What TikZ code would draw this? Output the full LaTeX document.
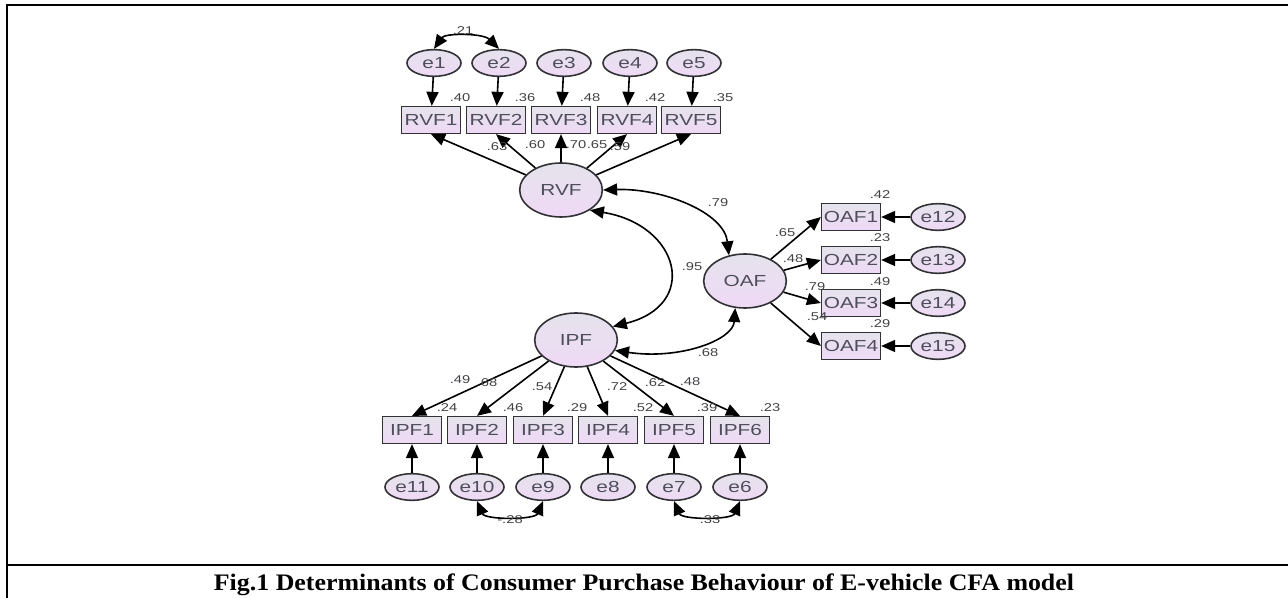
\documentclass[tikz,border=0pt]{standalone}
\usepackage{fontspec}
\setmainfont{Liberation Serif}
\setsansfont{Liberation Sans}
\usepackage{graphicx}
\usetikzlibrary{shapes.geometric, arrows.meta, positioning, calc}

\definecolor{nodetop}{RGB}{229,227,236}
\definecolor{nodebot}{RGB}{239,217,246}
\definecolor{nodeline}{RGB}{50,50,54}
\definecolor{nodetext}{RGB}{78,78,92}
\definecolor{coeftext}{RGB}{66,66,70}
\newcommand{\wide}[1]{\scalebox{1.3}[1]{#1}}

\begin{document}
\begin{tikzpicture}[
    x=0.75pt, y=-0.75pt,
    font=\sffamily,
    >={Triangle[length=10.5pt,width=9pt]},
    latent/.style={ellipse, draw=nodeline, line width=1.2pt, top color=nodetop, bottom color=nodebot, minimum width=62pt, minimum height=40.5pt, inner sep=0pt, text=nodetext, font=\sffamily\fontsize{12}{14}\selectfont},
    obs/.style={rectangle, draw=nodeline, line width=1.2pt, top color=nodetop, bottom color=nodebot, minimum width=44pt, minimum height=20pt, inner sep=0pt, text=nodetext, font=\sffamily\fontsize{12}{14}\selectfont},
    err/.style={ellipse, draw=nodeline, line width=1.2pt, top color=nodetop, bottom color=nodebot, minimum width=40.5pt, minimum height=20pt, inner sep=0pt, text=nodetext, font=\sffamily\fontsize{12}{14}\selectfont},
    coef/.style={inner sep=0pt, text=coeftext, font=\sffamily\fontsize{8.5}{10}\selectfont},
    path/.style={->, line width=1.2pt},
    cov/.style={<->, line width=1.2pt},
]
    \useasboundingbox (0,0) rectangle (1288,598);

    % Frame and caption
    \draw[line width=1.5pt] (7,598) -- (7,5.5) -- (1288,5.5);
    \draw[line width=1.5pt] (7,564.5) -- (1288,564.5);
    \node[font=\rmfamily\bfseries, anchor=base, inner sep=0pt] (caption) at (644,590)
        {\resizebox{645pt}{12.5pt}{Fig.1 Determinants of Consumer Purchase Behaviour of E-vehicle CFA model}};

    % Latent factors
    \node[latent] (RVF) at (561,190) {\wide{RVF}};
    \node[latent] (OAF) at (745,281) {\wide{OAF}};
    \node[latent] (IPF) at (576,340) {\wide{IPF}};

    % RVF indicators
    \foreach \i/\x in {1/431,2/496,3/561,4/627,5/691}{
        \node[obs] (RVF\i) at (\x,120) {\wide{RVF\i}};
        \node[err] (e\i) at (\x+3,63) {\wide{e\i}};
        \draw[path] (e\i) -- (RVF\i);
        \draw[path] (RVF) -- (RVF\i.south);
    }

    % OAF indicators
    \foreach \i/\y/\e in {1/217/12,2/260/13,3/303/14,4/346/15}{
        \node[obs] (OAF\i) at (851,\y) {\wide{OAF\i}};
        \node[err] (e\e) at (938,\y) {\wide{e\e}};
        \draw[path] (e\e) -- (OAF\i);
        \draw[path] (OAF) -- (OAF\i.west);
    }

    % IPF indicators
    \foreach \i/\x/\e in {1/412/11,2/477/10,3/543/9,4/608/8,5/674/7,6/740/6}{
        \node[obs] (IPF\i) at (\x,430) {\wide{IPF\i}};
        \node[err] (e\e) at (\x,487) {\wide{e\e}};
        \draw[path] (e\e) -- (IPF\i);
        \draw[path] (IPF) -- (IPF\i.north);
    }

    % Factor covariances
    \draw[cov] (RVF.east) .. controls (662,188) and (724,212) .. (OAF.122);
    \draw[cov] (RVF.-35) .. controls (680,225) and (700,305) .. (IPF.20);
    \draw[cov] (IPF.-15) .. controls (680,360) and (733,340) .. (OAF.-110);

    % Error covariances
    \draw[cov] (e1.north) .. controls (445,33) and (483,33) .. (e2.north);
    \draw[cov] (e10.south) .. controls (485,520) and (535,520) .. (e9.south);
    \draw[cov] (e7.south) .. controls (682,520) and (732,520) .. (e6.south);

    % Coefficients
    \foreach \v/\x/\y in {.21/463/31, .40/460/98, .36/525/98, .48/590/98, .42/655/98, .35/723/98,
        .63/497/147, .60/535/145, .70/576/145, .65/597/145, .59/620/147,
        .79/718/203, .95/692/267, .68/708/353,
        .42/880/195, .23/880/238, .49/880/282, .29/880/324,
        .65/785/233, .48/793/259, .79/815/287, .54/817/317,
        .49/460/380, .68/487/383, .54/542/387, .72/617/387, .62/655/383, .48/690/382,
        .24/447/408, .46/513/408, .29/577/408, .52/643/408, .39/707/408, .23/770/408,
        -.28/510/520, .33/710/520}
        \node[coef] at (\x,\y) {\wide{\v}};

\end{tikzpicture}
\end{document}
